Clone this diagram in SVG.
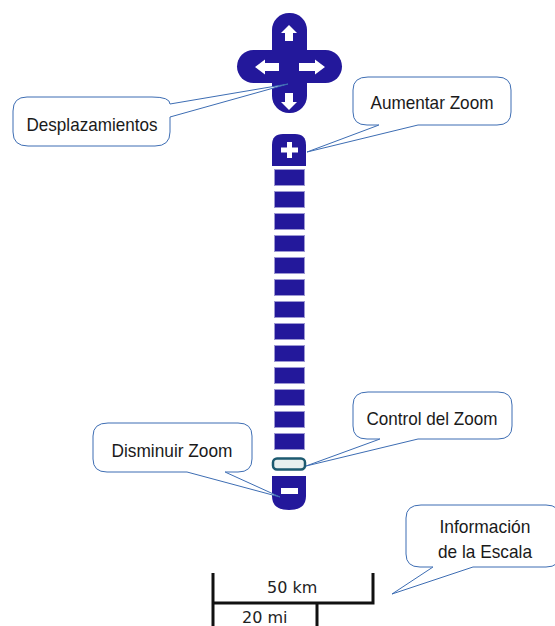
<svg xmlns="http://www.w3.org/2000/svg" width="555" height="626" viewBox="0 0 555 626">
<style>
.pur{fill:#23189b}
.seg{fill:#23189b;stroke:#9c97d2;stroke-width:1}
.wh{fill:#ffffff}
.co{fill:#ffffff;stroke:#3d6db3;stroke-width:1}
.tl{fill:#ffffff;stroke:#3d6db3;stroke-width:1;stroke-linejoin:miter}
.lbl{font-family:"Liberation Sans",Arial,sans-serif;font-size:19px;fill:#1a1a1a;text-anchor:middle}
.sc{font-family:"DejaVu Sans",Verdana,sans-serif;font-size:16px;fill:#222}
.bar{stroke:#111;stroke-width:3;fill:none}
</style>
<rect width="555" height="626" fill="#ffffff"/>
<g id="pan-control">
  <rect class="pur" x="272" y="13" width="35" height="100" rx="17" ry="17"/>
  <rect class="pur" x="237" y="50" width="105" height="33" rx="16.5" ry="16.5"/>
  <polygon class="wh" points="289,25 297,33 293,33 293,41 285,41 285,33 281,33"/>
  <polygon class="wh" points="255,67 265,59.5 265,63 279,63 279,71 265,71 265,74.5"/>
  <polygon class="wh" points="325,67 315,59.5 315,63 299,63 299,71 315,71 315,74.5"/>
  <polygon class="wh" points="289,110 297,102 293,102 293,93 285,93 285,102 281,102"/>
</g>
<g id="zoom-in">
  <path class="pur" d="M272,166 V145 Q272,134 283,134 H295 Q306,134 306,145 V166 Z"/>
  <rect class="wh" x="281" y="147.5" width="17" height="5"/>
  <rect class="wh" x="287" y="142" width="5" height="16"/>
</g>
<g id="zoom-bar">
  <rect class="seg" x="274.5" y="169.5" width="30" height="16"/>
  <rect class="seg" x="274.5" y="191.5" width="30" height="16"/>
  <rect class="seg" x="274.5" y="213.5" width="30" height="16"/>
  <rect class="seg" x="274.5" y="235.5" width="30" height="16"/>
  <rect class="seg" x="274.5" y="257.5" width="30" height="16"/>
  <rect class="seg" x="274.5" y="279.5" width="30" height="16"/>
  <rect class="seg" x="274.5" y="301.5" width="30" height="16"/>
  <rect class="seg" x="274.5" y="323.5" width="30" height="16"/>
  <rect class="seg" x="274.5" y="345.5" width="30" height="16"/>
  <rect class="seg" x="274.5" y="367.5" width="30" height="16"/>
  <rect class="seg" x="274.5" y="389.5" width="30" height="16"/>
  <rect class="seg" x="274.5" y="411.5" width="30" height="16"/>
  <rect class="seg" x="274.5" y="433.5" width="30" height="16"/>
</g>
<g id="zoom-slider">
  <rect x="273" y="458.5" width="32" height="11" rx="4" ry="4" fill="#e8efef" stroke="#1c5a70" stroke-width="2.5"/>
</g>
<g id="zoom-out">
  <path class="pur" d="M272,476 H306 V496 Q306,510 289,510 Q272,510 272,496 Z"/>
  <rect class="wh" x="281" y="488" width="17" height="6"/>
</g>
<g id="scale">
  <path class="bar" d="M213,573 V626 M213,603 H373 V573 M317,603 V626"/>
  <text class="sc" x="267" y="593">50 km</text>
  <text class="sc" x="242" y="623">20 mi</text>
</g>
<g id="callout-desplazamientos">
  <path class="co" d="M170,117 V132 Q170,146 155,146 H28 Q13,146 13,132 V111 Q13,97 27,97 H152 Q170,97 170,104"/>
  <text class="lbl" x="92" y="131" textLength="131" lengthAdjust="spacingAndGlyphs">Desplazamientos</text>
</g>
<g id="callout-aumentar">
  <path class="co" d="M379,125 H367 Q353,125 353,112 V90 Q353,77 368,77 H497 Q511,77 511,90 V112 Q511,125 497,125 H418"/>
  <text class="lbl" x="432" y="109" textLength="123" lengthAdjust="spacingAndGlyphs">Aumentar Zoom</text>
</g>
<g id="callout-control">
  <path class="co" d="M380,439 H367 Q353,439 353,426 V405 Q353,392 368,392 H498 Q512,392 512,405 V426 Q512,439 498,439 H418"/>
  <text class="lbl" x="432" y="425" textLength="131" lengthAdjust="spacingAndGlyphs">Control del Zoom</text>
</g>
<g id="callout-disminuir">
  <path class="co" d="M225,472 H238 Q252,472 252,459 V436 Q252,423 238,423 H108 Q93,423 93,436 V459 Q93,472 107,472 H187"/>
  <text class="lbl" x="172" y="457" textLength="121" lengthAdjust="spacingAndGlyphs">Disminuir Zoom</text>
</g>
<g id="callout-escala">
  <path class="co" d="M433,567 H420 Q406,567 406,554 V518 Q406,505 421,505 H546 Q560,505 560,518 V554 Q560,567 546,567 H473"/>
  <text class="lbl" x="485" y="533" textLength="91" lengthAdjust="spacingAndGlyphs">Información</text>
  <text class="lbl" x="485" y="558" textLength="94" lengthAdjust="spacingAndGlyphs">de la Escala</text>
</g>
<g id="connectors">
  <polyline class="tl" points="170,104 288,84 170,117"/>
  <polyline class="tl" points="379,125 307,152 418,125"/>
  <polyline class="tl" points="380,439 306,466 418,439"/>
  <polyline class="tl" points="187,472 280,497 225,472"/>
  <polyline class="tl" points="433,567 392,594 473,567"/>
</g>
</svg>
